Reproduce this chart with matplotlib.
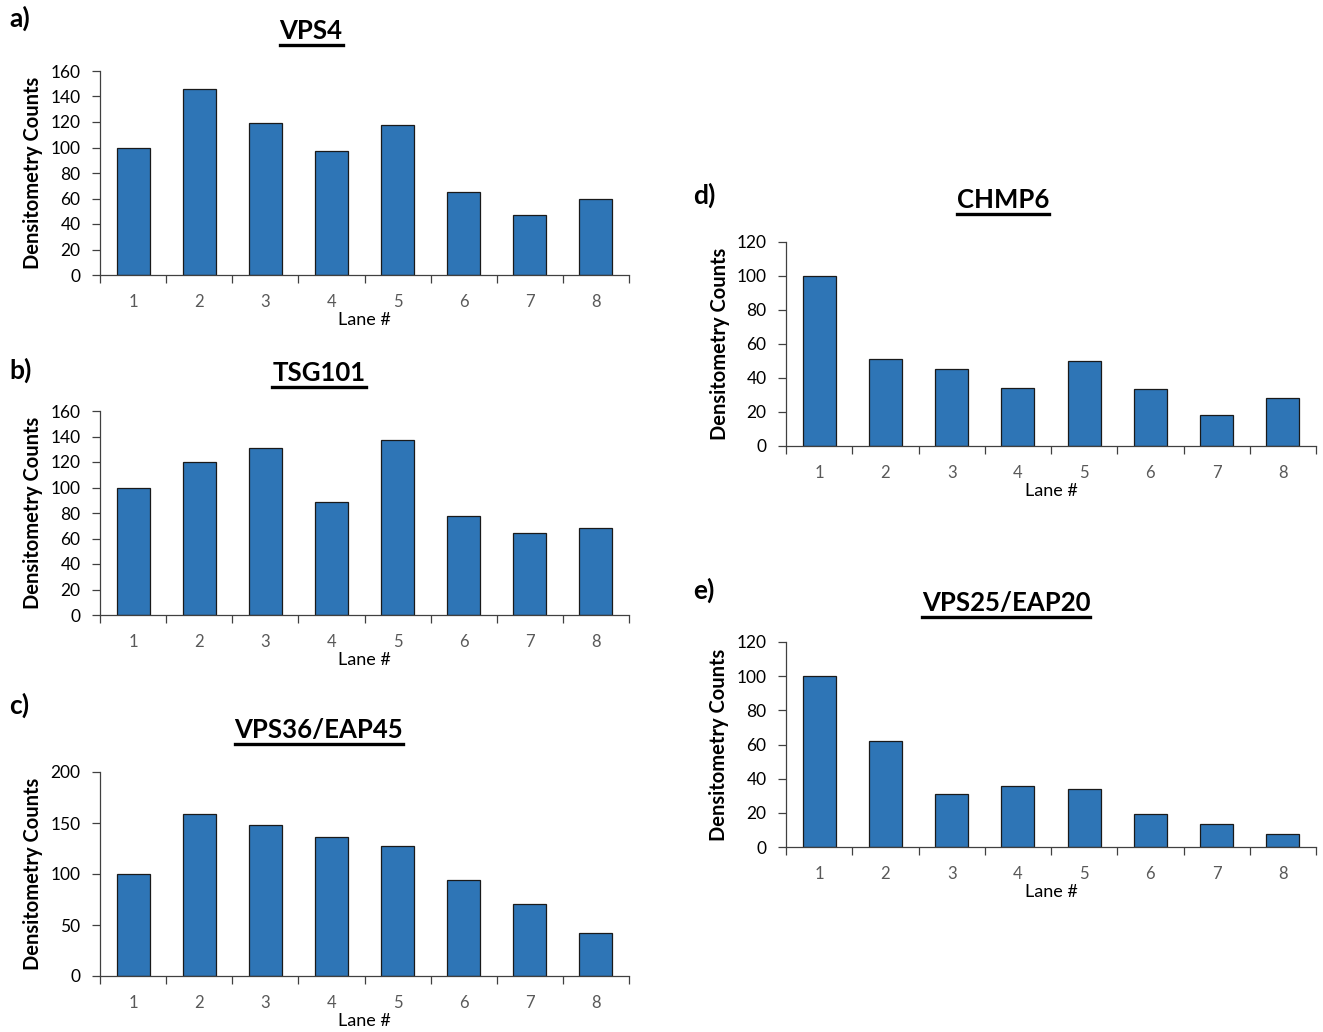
import matplotlib
matplotlib.use("Agg")
import matplotlib.pyplot as plt
from matplotlib.lines import Line2D

plt.rcParams['font.family'] = ['Lato', 'DejaVu Sans']

lanes = [1, 2, 3, 4, 5, 6, 7, 8]

vps4 = [100, 146, 119, 97, 118, 65, 47, 60]
tsg101 = [100, 120, 131, 89, 137, 78, 64, 68]
vps36 = [100, 159, 148, 136, 127, 94, 71, 42]
chmp6 = [100, 51, 45.5, 34, 50, 33.5, 18, 28]
vps25 = [100, 62, 31, 36, 34, 19.5, 13.5, 7.5]

titles = ["VPS4", "TSG101", "VPS36/EAP45", "CHMP6", "VPS25/EAP20"]
letters = ["a)", "b)", "c)", "d)", "e)"]
series = [vps4, tsg101, vps36, chmp6, vps25]
y_max = [160, 160, 200, 120, 120]
y_step = [20, 20, 50, 20, 20]

W, H = 1323, 1032
fig = plt.figure(figsize=(W / 100, H / 100), dpi=100)

# axes boxes in pixels: left, top, right, bottom
boxes = [
    (100, 71, 629, 275),
    (100, 411, 629, 615),
    (100, 772, 629, 976),
    (786, 242, 1316, 446),
    (786, 642, 1316, 847),
]
title_pos = [(311, 31), (319, 373), (319, 730), (1003, 200), (1006, 603)]
letter_pos = [(9, 18), (9, 370), (9, 705), (693, 195), (693, 590)]
ylabel_x = [33, 33, 33, 720, 719]

couleur = '#2E75B6'
titre_textes = []

for k in range(5):
    l, t, r, b = boxes[k]
    ax = fig.add_axes([l / W, (H - b) / H, (r - l) / W, (b - t) / H])
    ax.bar(lanes, series[k], width=0.5, color=couleur, edgecolor='#1a1a1a', linewidth=0.9)
    ax.set_xlim(0.5, 8.5)
    ax.set_ylim(0, y_max[k])
    ax.set_yticks(range(0, y_max[k] + 1, y_step[k]))
    ax.set_xticks(lanes)
    ax.set_xticks([i + 0.5 for i in range(0, 9)], minor=True)
    ax.tick_params(axis='x', which='major', length=0, pad=14, labelsize=12, labelcolor='#595959')
    ax.tick_params(axis='x', which='minor', length=6, width=0.9, direction='out', color='#404040')
    ax.tick_params(axis='y', length=6, width=0.9, direction='out', labelsize=12.5, pad=8, color='#404040')
    for s in ['top', 'right']:
        ax.spines[s].set_visible(False)
    for s in ['left', 'bottom']:
        ax.spines[s].set_color('#404040')
        ax.spines[s].set_linewidth(0.9)
    ax.set_xlabel("Lane #", fontsize=13, labelpad=1)
    ax.set_ylabel("Densitometry Counts", fontsize=14.5, fontweight='bold', va='center')
    ax.yaxis.set_label_coords((ylabel_x[k] - l) / (r - l), 0.5)

    tx, ty = title_pos[k]
    titre = fig.text(tx / W, 1 - ty / H, titles[k], fontsize=18.5, fontweight='bold',
                     ha='center', va='center')
    titre_textes.append(titre)
    lx, ly = letter_pos[k]
    fig.text(lx / W, 1 - ly / H, letters[k], fontsize=19, fontweight='bold',
             ha='left', va='center')

# soulignement des titres
fig.canvas.draw()
renderer = fig.canvas.get_renderer()
for titre in titre_textes:
    bb = titre.get_window_extent(renderer)
    y = (bb.y0 - 2) / H
    fig.add_artist(Line2D([bb.x0 / W, bb.x1 / W], [y, y], color='black', linewidth=2.4))

fig.savefig("out.png", dpi=100)
